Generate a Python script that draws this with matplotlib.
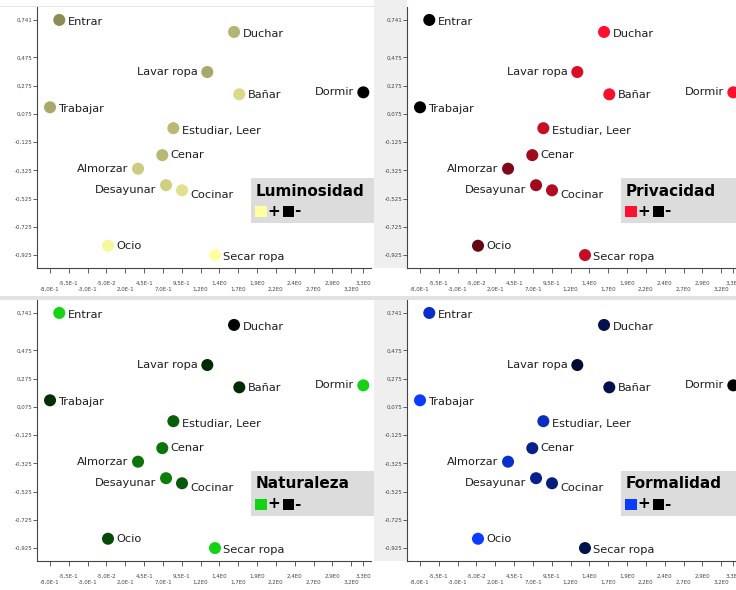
import matplotlib.pyplot as plt
from matplotlib.patches import Rectangle
from matplotlib.colors import to_rgb

W, H = 736, 590

activities = ['Entrar', 'Duchar', 'Lavar ropa', 'Bañar', 'Dormir', 'Trabajar',
              'Estudiar, Leer', 'Cenar', 'Almorzar', 'Desayunar', 'Cocinar',
              'Ocio', 'Secar ropa']
dim1 = [-0.677, 1.644, 1.289, 1.714, 3.361, -0.800, 0.838, 0.691, 0.369,
        0.741, 0.953, -0.030, 1.391]
dim2 = [0.741, 0.656, 0.372, 0.214, 0.228, 0.122, -0.026, -0.217, -0.313,
        -0.430, -0.466, -0.859, -0.925]

# attribute intensity per activity (0 = black / "-", 1 = full colour / "+")
luminosidad = [0.55, 0.71, 0.66, 0.85, 0.0, 0.66, 0.73, 0.72, 0.80, 0.81, 0.88, 0.97, 1.0]
privacidad = [0.0, 1.0, 0.85, 0.98, 1.0, 0.0, 0.78, 0.63, 0.50, 0.63, 0.70, 0.40, 0.78]
naturaleza = [1.0, 0.02, 0.20, 0.20, 1.0, 0.22, 0.45, 0.55, 0.55, 0.60, 0.42, 0.35, 1.0]
formalidad = [0.78, 0.30, 0.20, 0.30, 0.0, 1.0, 0.75, 0.55, 0.80, 0.55, 0.48, 1.0, 0.30]

titles = ['Luminosidad', 'Privacidad', 'Naturaleza', 'Formalidad']
values = [luminosidad, privacidad, naturaleza, formalidad]
plus_colors = ['#ffffa0', '#ff1030', '#14d214', '#0a3cff']

xtick_vals = [-0.80, -0.55, -0.30, -0.05, 0.20, 0.45, 0.70, 0.95, 1.20,
              1.45, 1.70, 1.95, 2.20, 2.45, 2.70, 2.95, 3.20, 3.36]
xtick_labels = ['-8,0E-1', '-5,5E-1', '-3,0E-1', '-5,0E-2', '2,0E-1', '4,5E-1',
                '7,0E-1', '9,5E-1', '1,2E0', '1,4E0', '1,7E0', '1,9E0', '2,2E0',
                '2,4E0', '2,7E0', '2,9E0', '3,2E0', '3,3E0']
ytick_vals = [0.741, 0.475, 0.275, 0.075, -0.125, -0.325, -0.525, -0.725, -0.925]
ytick_labels = ['0,741', '0,475', '0,275', '0,075', '-0,125', '-0,325',
                '-0,525', '-0,725', '-0,925']

# label placement: side of the dot and vertical shift (px, down positive)
label_side = ['r', 'r', 'l', 'r', 'l', 'r', 'r', 'r', 'l', 'l', 'r', 'r', 'r']
label_dy = [2, 2, 0, 1, 0, 1.5, 3, 0, 0, 4.5, 5, 0, 2]

origins = [(0, 0), (370, 0), (0, 293), (370, 293)]


def px_box(x0, y0, x1, y1):
    return [x0 / W, 1 - y1 / H, (x1 - x0) / W, (y1 - y0) / H]


def px_rect(x0, y0, x1, y1, color, z):
    return Rectangle((x0 / W, 1 - y1 / H), (x1 - x0) / W, (y1 - y0) / H,
                     transform=fig.transFigure, facecolor=color,
                     edgecolor='none', zorder=z)


def shade(color, t):
    r, g, b = to_rgb(color)
    return (r * t, g * t, b * t)


fig = plt.figure(figsize=(W / 100, H / 100), dpi=100)
fig.patch.set_facecolor('white')

# light grey column behind the y labels of the right-hand panels
fig.add_artist(px_rect(374, 0, 406.5, 268, '#efefef', -1))
fig.add_artist(px_rect(374, 300, 406.5, 561, '#efefef', -1))
# faint top border of the upper row
fig.add_artist(px_rect(0, 6.5, 374, 7.3, '#e6e6e6', -1))

for i, title in enumerate(titles):
    ox, oy = origins[i]
    ax = fig.add_axes(px_box(ox + 37, oy + 7, ox + 371, oy + 268))
    ax.patch.set_alpha(0)
    ax.set_xlim(-0.973, 3.463)
    ax.set_ylim(-1.0167, 0.8327)
    for s in ['top', 'right']:
        ax.spines[s].set_visible(False)
    for s in ['left', 'bottom']:
        ax.spines[s].set_color('#444444')
        ax.spines[s].set_linewidth(0.8)

    cols = [shade(plus_colors[i], t) for t in values[i]]
    ax.scatter(dim1, dim2, s=75, c=cols, edgecolors='none', zorder=3, clip_on=False)

    for j, name in enumerate(activities):
        if label_side[j] == 'r':
            dx, ha = 8.5, 'left'
        else:
            dx, ha = -9.5, 'right'
        ax.annotate(name, (dim1[j], dim2[j]), xytext=(dx * 0.72, -label_dy[j] * 0.72),
                    textcoords='offset points', ha=ha, va='center',
                    fontsize=8.2, color='#1e1e1e', zorder=4)

    ax.set_yticks(ytick_vals)
    ax.set_yticklabels(ytick_labels)
    ax.tick_params(axis='y', direction='out', length=3, width=0.6, pad=0.5,
                   labelsize=4, colors='#444444')

    ax.set_xticks(xtick_vals[0::2])
    ax.set_xticklabels(xtick_labels[0::2])
    ax.set_xticks(xtick_vals[1::2], minor=True)
    ax.set_xticklabels(xtick_labels[1::2], minor=True)
    ax.tick_params(axis='x', which='major', direction='out', length=3.6, width=0.6,
                   pad=10, labelsize=4, colors='#444444')
    ax.tick_params(axis='x', which='minor', direction='out', length=3.6, width=0.6,
                   pad=5.5, labelsize=4, colors='#444444')

    # legend box
    fig.add_artist(px_rect(ox + 250.7, oy + 177.7, ox + 374, oy + 222.7, '#dcdcdc', 5))
    fig.text((ox + 256) / W, 1 - (oy + 191) / H, title, fontsize=11,
             fontweight='bold', va='center', ha='left', color='black', zorder=6)
    fig.add_artist(px_rect(ox + 255, oy + 205.7, ox + 267, oy + 216.7, plus_colors[i], 6))
    fig.text((ox + 267.5) / W, 1 - (oy + 211) / H, '+', fontsize=11,
             fontweight='bold', va='center', ha='left', color='black', zorder=6)
    fig.add_artist(px_rect(ox + 283.3, oy + 205.7, ox + 294.3, oy + 216.7, 'black', 6))
    fig.text((ox + 294.5) / W, 1 - (oy + 211) / H, '-', fontsize=11,
             fontweight='bold', va='center', ha='left', color='black', zorder=6)

# grey band between the two rows
fig.add_artist(px_rect(0, 296, W, 300, '#e2e2e2', 10))

fig.savefig('out.png', dpi=100)
